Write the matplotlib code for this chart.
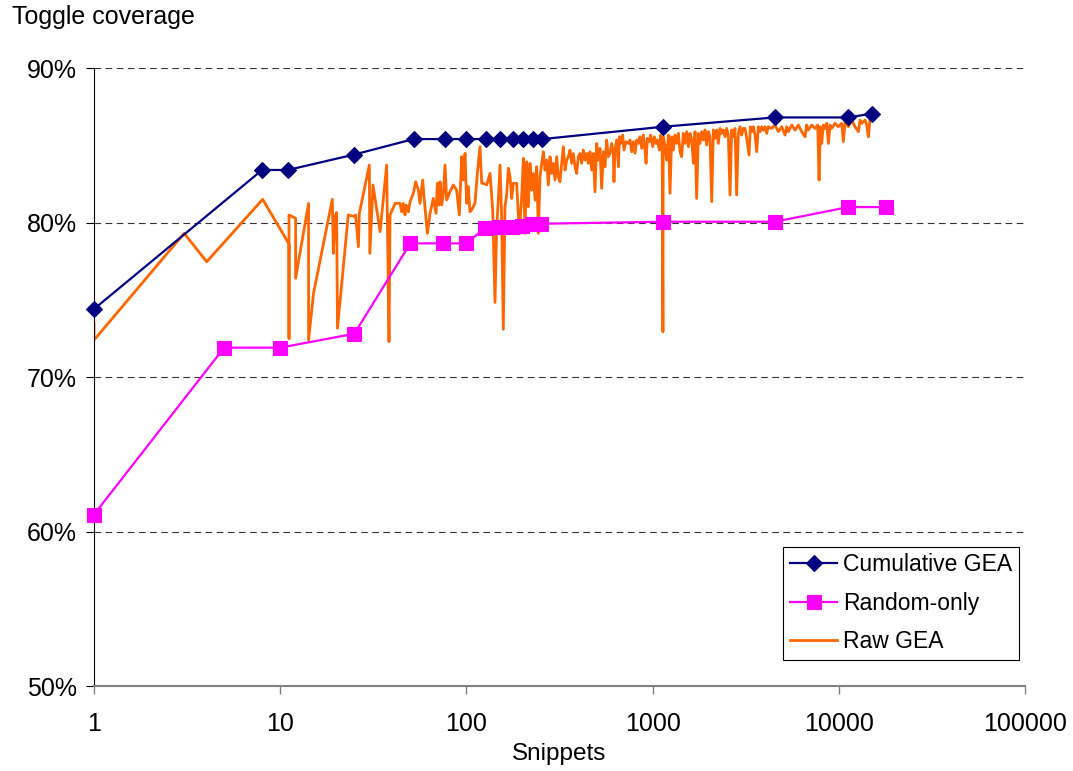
import matplotlib
matplotlib.use('Agg')
import matplotlib.pyplot as plt
from matplotlib.ticker import FuncFormatter

plt.rcParams['font.family'] = ['Liberation Sans', 'DejaVu Sans']

# best-so-far coverage of the evolutionary run
cumulative_snippets = [1, 8, 11, 25, 52, 77, 100, 128, 152, 177, 202, 228, 256, 1142, 4528, 11250, 15080]
cumulative_coverage = [74.4, 83.4, 83.4, 84.4, 85.4, 85.4, 85.4, 85.4, 85.4, 85.4, 85.4, 85.4, 85.4,
                       86.2, 86.8, 86.8, 87.05]

# purely random snippets
random_snippets = [1, 5, 10, 25, 50, 75, 100, 126, 150, 175, 200, 225, 250, 1137, 4520, 11250, 17920]
random_coverage = [61.1, 71.9, 71.9, 72.8, 78.65, 78.65, 78.65, 79.66, 79.68, 79.72, 79.8, 79.88, 79.92,
                   80.05, 80.05, 81.0, 81.0]

# per-snippet coverage of the raw GEA population
raw_snippets = [
    # 1 .. 41
    1, 1, 3.05, 4.03, 8.05, 11.15, 11.15, 11.15, 12.1, 12.1, 14.2, 14.2, 15.1, 19.05, 19.3, 19.7, 20.1,
    20.3, 23.2, 25.2, 25.4, 26.3, 26.6, 30.1, 30.3, 31.5, 34.4, 37.3, 38.4, 38.9, 41.4,
    # 44 .. 186
    44.0, 44.9, 45.8, 46.8, 47.4, 48.2, 48.8, 49.8, 51.9, 53.4, 55.2, 56.3, 58.2, 59.2, 61.7, 63.8, 66.4,
    68.7, 69.8, 71.3, 72.2, 73.7, 75.2, 76.8, 78.3, 81.6, 85.1, 88.6, 91.6, 94.3, 96.3, 98.3, 100.3, 102.4,
    104.5, 106.7, 111.2, 114.5, 118.3, 120.8, 123.3, 128.5, 133.9, 138.4, 142.4, 145.4, 148.4, 151.5,
    154.6, 157.8, 161.1, 164.5, 168, 171.5, 175.1, 178.6, 186.2,
    # 192 .. 578
    192.4, 198.1, 202.2, 206.4, 210.7, 215.1, 219.6, 224.2, 228.8, 233.6, 238.4, 243.4, 248.5, 253.7,
    258.9, 264.3, 269.8, 275.4, 281.2, 287.1, 293, 299.1, 305.3, 311.7, 318.1, 324.8, 331.5, 338.4,
    345.5, 352.7, 360, 367.5, 375.2, 383, 390.9, 399.1, 407.4, 415.9, 424.5, 433.4, 442.4, 451.6, 461,
    470.6, 480.4, 490.4, 500.6, 511, 521.6, 532.5, 543.6, 554.9, 566.4, 578.2,
    # 590 .. 3070
    590, 603, 615, 620, 628, 641, 655, 663, 674, 691, 702, 720, 741, 756, 772, 788, 804, 821, 838, 855,
    874, 892, 910, 922, 937, 960, 976, 1001, 1022, 1043, 1060, 1087, 1105, 1125, 1136, 1140, 1142, 1166,
    1190, 1215, 1240, 1266, 1292, 1319, 1346, 1375, 1403, 1432, 1462, 1493, 1524, 1556, 1588, 1621,
    1655, 1689, 1724, 1760, 1797, 1834, 1873, 1912, 1951, 1992, 2033, 2076, 2119, 2163, 2208, 2254,
    2301, 2349, 2398, 2448, 2499, 2551, 2604, 2658, 2713, 2770, 2827, 2886, 2946, 3008, 3070,
    # 3135 .. 15018
    3135, 3201, 3295, 3349, 3405, 3476, 3548, 3622, 3698, 3775, 3853, 3933, 4015, 4099, 4183, 4359,
    4543, 4733, 4933, 5140, 5248, 5358, 5583, 5818, 6063, 6318, 6583, 6722, 6861, 7149, 7450, 7701,
    7830, 7960, 8092, 8260, 8433, 8608, 8788, 8971, 9158, 9544, 9945, 10363, 10578, 10800, 11254,
    11728, 12221, 12735, 13002, 13271, 13830, 14118, 14411, 14713, 15018,
]
raw_coverage = [
    73.48, 72.39, 79.3, 77.46, 81.5, 78.61, 72.5, 80.49, 80.27, 76.39, 81.24, 72.39, 75.42, 81.5, 78.0,
    80.38, 80.64, 73.15, 80.49, 80.38, 80.49, 78.43, 80.59, 83.72, 78.0, 82.43, 79.41, 83.72, 72.29,
    80.49, 81.24,
    81.24, 80.70, 81.24, 80.49, 81.13, 81.03, 80.70, 81.35, 81.89, 82.64, 82.10, 81.24, 82.75, 81.67,
    79.30, 80.59, 81.56, 80.59, 82.54, 81.13, 82.64, 81.13, 81.89, 83.72, 81.46, 81.99, 82.43, 82.10,
    80.49, 84.26, 82.75, 84.48, 81.24, 82.32, 80.70, 80.81, 81.24, 83.18, 84.91, 82.54, 82.54, 82.43,
    83.18, 80.81, 74.83, 79.73, 81.46, 83.72, 80.38, 73.09, 81.03, 81.78, 83.51, 82.97, 81.56, 82.54,
    82.54,
    79.3, 81.67, 84.15, 79.3, 83.93, 81.02, 83.83, 82.10, 83.18, 81.45, 83.61, 79.3, 82.96, 83.83, 84.58,
    83.39, 84.04, 82.43, 84.26, 83.18, 83.83, 82.75, 84.26, 82.96, 82.64, 83.83, 84.90, 83.39, 84.04,
    84.26, 84.69, 83.83, 84.47, 83.61, 83.18, 84.26, 84.47, 83.83, 84.69, 84.04, 84.47, 83.83, 84.58,
    83.39, 84.47, 81.99, 85.12, 84.04, 84.80, 82.21, 84.58, 83.61, 85.34, 84.26,
    84.48, 85.12, 84.37, 82.64, 84.69, 85.34, 83.61, 85.55, 85.12, 85.66, 84.69, 85.23, 85.12, 85.34,
    84.58, 85.23, 84.48, 85.34, 85.12, 85.55, 84.80, 85.66, 84.69, 83.83, 85.45, 85.23, 85.66, 84.91,
    85.55, 85.12, 85.34, 84.69, 85.66, 85.30, 72.93, 85.55, 85.55, 84.91, 84.04, 85.66, 81.89, 85.55,
    84.69, 85.66, 85.12, 85.77, 84.58, 84.26, 85.77, 85.12, 85.88, 84.91, 85.77, 85.34, 83.83, 85.88,
    81.56, 85.77, 85.12, 85.88, 85.34, 85.99, 85.01, 85.88, 85.55, 81.35, 85.99, 85.45, 85.99, 85.12,
    86.09, 85.77, 85.99, 85.55, 86.09, 85.66, 81.78, 85.99, 85.55, 86.09, 81.78, 85.77, 86.20, 85.66,
    86.09,
    86.09, 85.45, 84.37, 86.20, 85.88, 86.20, 85.66, 84.58, 86.20, 85.88, 86.20, 85.98, 86.20, 85.77,
    86.20, 86.09, 86.31, 85.88, 86.20, 85.66, 86.20, 85.88, 86.31, 85.98, 86.31, 85.88, 85.55, 86.31,
    85.98, 86.31, 86.09, 86.31, 82.75, 86.20, 85.12, 86.31, 86.09, 86.42, 85.12, 86.31, 86.09, 86.42,
    86.20, 86.42, 85.23, 86.52, 86.20, 86.63, 86.20, 85.88, 86.63, 86.42, 86.63, 86.31, 85.55, 86.74,
    86.63,
]
assert len(raw_snippets) == len(raw_coverage)

x_ticks = [1, 10, 100, 1000, 10000, 100000]
y_ticks = [50, 60, 70, 80, 90]

fig = plt.figure(figsize=(10.73, 7.71), dpi=100)
ax = fig.add_axes([0.0876, 0.1102, 0.8677, 0.8016])

raw_line, = ax.plot(raw_snippets, raw_coverage, color='#FF6600', linewidth=2.0, zorder=2,
                    label='Raw GEA')
cum_line, = ax.plot(cumulative_snippets, cumulative_coverage, color='#000080', linewidth=1.6,
                    marker='D', markersize=8.5, markeredgewidth=0.8, zorder=3, clip_on=False,
                    label='Cumulative GEA')
rnd_line, = ax.plot(random_snippets, random_coverage, color='#FF00FF', linewidth=1.6,
                    marker='s', markersize=10, markeredgewidth=0.8, zorder=3, clip_on=False,
                    label='Random-only')

ax.set_xscale('log')
ax.set_xlim(1, 100000)
ax.set_ylim(50, 90)
ax.set_xticks(x_ticks)
ax.set_xticklabels([str(t) for t in x_ticks])
ax.minorticks_off()
ax.set_yticks(y_ticks)
ax.yaxis.set_major_formatter(FuncFormatter(lambda v, pos: f'{v:.0f}%'))

ax.tick_params(axis='y', length=6, width=0.8, pad=6.5, labelsize=18, color='black')
ax.tick_params(axis='x', length=6, width=1.0, pad=12.5, labelsize=18, color='#808080')

for side in ('top', 'right'):
    ax.spines[side].set_visible(False)
ax.spines['left'].set_color('black')
ax.spines['left'].set_linewidth(0.8)
ax.spines['bottom'].set_color('#808080')
ax.spines['bottom'].set_linewidth(1.5)

ax.yaxis.grid(True, color='#333333', linestyle=(0, (6, 4)), linewidth=0.8)
ax.set_axisbelow(True)

ax.set_xlabel('Snippets', fontsize=17.5)
ax.xaxis.set_label_coords(0.5, -0.092)
fig.text(12 / 1073, 1 - 17 / 771, 'Toggle coverage', fontsize=18, ha='left', va='center')

leg = ax.legend(handles=[cum_line, rnd_line, raw_line], loc='lower right',
                bbox_to_anchor=(0.9936, 0.042), borderaxespad=0, fancybox=False,
                edgecolor='black', framealpha=1, fontsize=16.5, handlelength=2.05,
                labelspacing=0.67, borderpad=0.3, handletextpad=0.25)
leg.get_frame().set_linewidth(0.8)

fig.savefig('out.png', dpi=100)
